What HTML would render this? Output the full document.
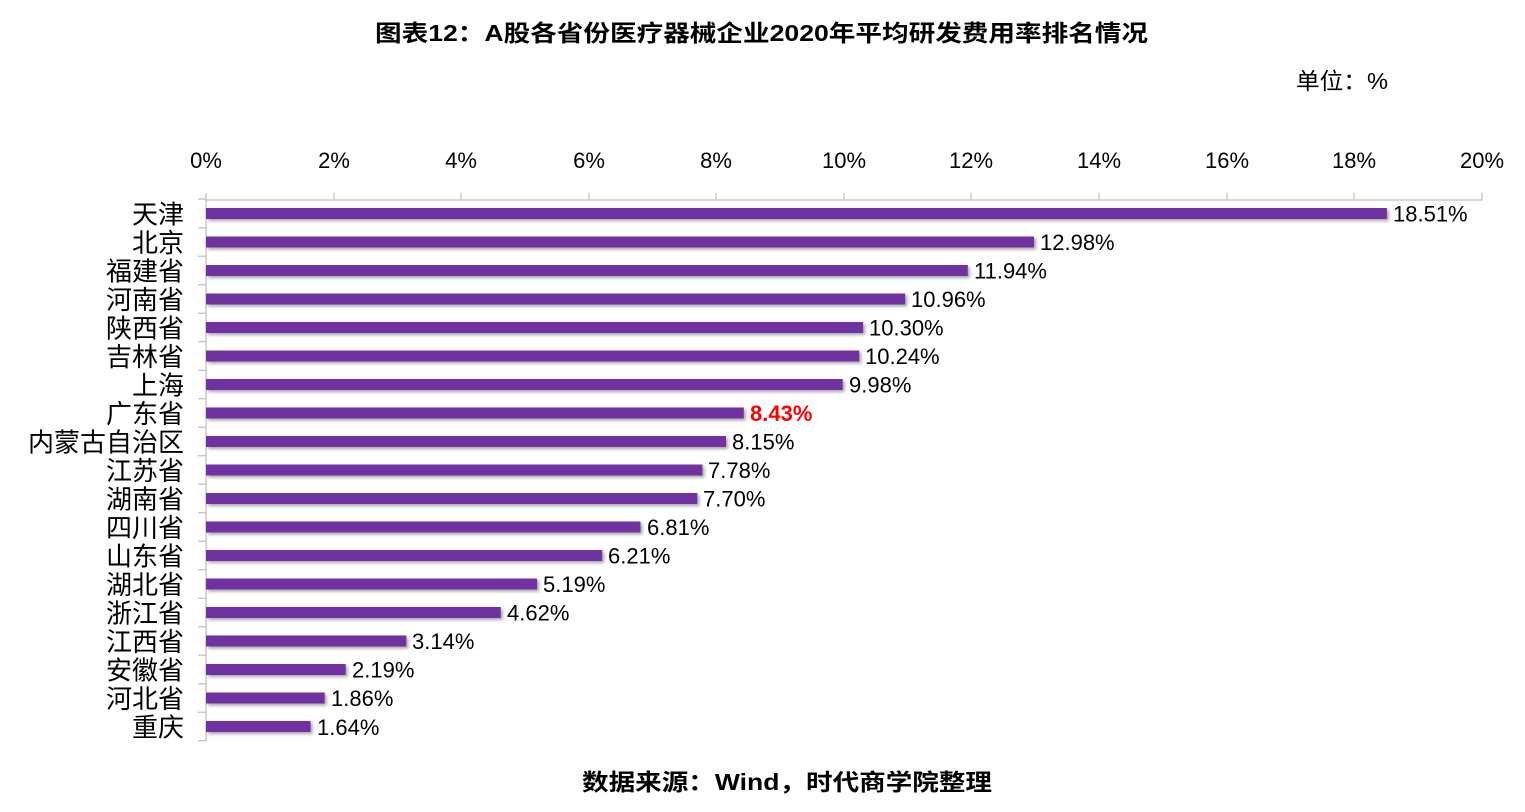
<!DOCTYPE html><html><head><meta charset="utf-8"><style>body{margin:0;background:#fff}svg{display:block}</style></head><body>
<svg width="1525" height="812" xmlns="http://www.w3.org/2000/svg" font-family="Liberation Sans, Noto Sans CJK SC, sans-serif">
<defs><filter id="s" x="-5%" y="-50%" width="110%" height="200%"><feDropShadow dx="2" dy="2" stdDeviation="1.5" flood-color="#000" flood-opacity="0.35"/></filter></defs>
<text x="375" y="41" textLength="773" lengthAdjust="spacingAndGlyphs" font-size="23" font-weight="bold" fill="#000">图表12：A股各省份医疗器械企业2020年平均研发费用率排名情况</text>
<text x="1296" y="89" textLength="92" lengthAdjust="spacingAndGlyphs" font-size="23" fill="#000">单位：%</text>
<text x="582" y="790" textLength="410" lengthAdjust="spacingAndGlyphs" font-size="23" font-weight="bold" fill="#000">数据来源：Wind，时代商学院整理</text>
<g font-size="22" fill="#000" text-anchor="middle">
<text x="206" y="168">0%</text><text x="334" y="168">2%</text><text x="461" y="168">4%</text><text x="589" y="168">6%</text><text x="716" y="168">8%</text><text x="844" y="168">10%</text><text x="971" y="168">12%</text><text x="1099" y="168">14%</text><text x="1227" y="168">16%</text><text x="1354" y="168">18%</text><text x="1482" y="168">20%</text>
</g>
<g stroke="#bfbfbf" stroke-width="1.2">
<line x1="206" y1="200" x2="1482" y2="200"/>
<line x1="206" y1="200" x2="206" y2="741"/>
<line x1="206" y1="193" x2="206" y2="200"/><line x1="334" y1="193" x2="334" y2="200"/><line x1="461" y1="193" x2="461" y2="200"/><line x1="589" y1="193" x2="589" y2="200"/><line x1="716" y1="193" x2="716" y2="200"/><line x1="844" y1="193" x2="844" y2="200"/><line x1="971" y1="193" x2="971" y2="200"/><line x1="1099" y1="193" x2="1099" y2="200"/><line x1="1227" y1="193" x2="1227" y2="200"/><line x1="1354" y1="193" x2="1354" y2="200"/><line x1="1482" y1="193" x2="1482" y2="200"/>
<line x1="198" y1="199" x2="206" y2="199"/>
<line x1="198" y1="227.75" x2="206" y2="227.75"/><line x1="198" y1="256.25" x2="206" y2="256.25"/><line x1="198" y1="284.75" x2="206" y2="284.75"/><line x1="198" y1="313.25" x2="206" y2="313.25"/><line x1="198" y1="341.75" x2="206" y2="341.75"/><line x1="198" y1="370.25" x2="206" y2="370.25"/><line x1="198" y1="398.75" x2="206" y2="398.75"/><line x1="198" y1="427.25" x2="206" y2="427.25"/><line x1="198" y1="455.75" x2="206" y2="455.75"/><line x1="198" y1="484.25" x2="206" y2="484.25"/><line x1="198" y1="512.75" x2="206" y2="512.75"/><line x1="198" y1="541.25" x2="206" y2="541.25"/><line x1="198" y1="569.75" x2="206" y2="569.75"/><line x1="198" y1="598.25" x2="206" y2="598.25"/><line x1="198" y1="626.75" x2="206" y2="626.75"/><line x1="198" y1="655.25" x2="206" y2="655.25"/><line x1="198" y1="683.75" x2="206" y2="683.75"/><line x1="198" y1="712.25" x2="206" y2="712.25"/><line x1="198" y1="740.75" x2="206" y2="740.75"/>
</g>
<g fill="#7030A0" filter="url(#s)">
<rect x="206" y="208" width="1180.9" height="11"/>
<rect x="206" y="236.5" width="828.1" height="11"/>
<rect x="206" y="265" width="761.8" height="11"/>
<rect x="206" y="293.5" width="699.2" height="11"/>
<rect x="206" y="322" width="657.1" height="11"/>
<rect x="206" y="350.5" width="653.3" height="11"/>
<rect x="206" y="379" width="636.7" height="11"/>
<rect x="206" y="407.5" width="537.8" height="11"/>
<rect x="206" y="436" width="520" height="11"/>
<rect x="206" y="464.5" width="496.4" height="11"/>
<rect x="206" y="493" width="491.3" height="11"/>
<rect x="206" y="521.5" width="434.5" height="11"/>
<rect x="206" y="550" width="396.2" height="11"/>
<rect x="206" y="578.5" width="331.1" height="11"/>
<rect x="206" y="607" width="294.8" height="11"/>
<rect x="206" y="635.5" width="200.3" height="11"/>
<rect x="206" y="664" width="139.7" height="11"/>
<rect x="206" y="692.5" width="118.7" height="11"/>
<rect x="206" y="721" width="104.6" height="11"/>
</g>
<g font-size="26" fill="#000" text-anchor="end">
<text x="184" y="223.5">天津</text><text x="184" y="252">北京</text><text x="184" y="280.5">福建省</text><text x="184" y="309">河南省</text><text x="184" y="337.5">陕西省</text><text x="184" y="366">吉林省</text><text x="184" y="394.5">上海</text><text x="184" y="423">广东省</text><text x="184" y="451.5">内蒙古自治区</text><text x="184" y="480">江苏省</text><text x="184" y="508.5">湖南省</text><text x="184" y="537">四川省</text><text x="184" y="565.5">山东省</text><text x="184" y="594">湖北省</text><text x="184" y="622.5">浙江省</text><text x="184" y="651">江西省</text><text x="184" y="679.5">安徽省</text><text x="184" y="708">河北省</text><text x="184" y="736.5">重庆</text>
</g>
<g font-size="22" fill="#000">
<text x="1393" y="221.5">18.51%</text><text x="1040" y="250">12.98%</text><text x="974" y="278.5">11.94%</text><text x="911" y="307">10.96%</text><text x="869" y="335.5">10.30%</text><text x="865" y="364">10.24%</text><text x="849" y="392.5">9.98%</text><text x="750" y="421" fill="#ff0000" font-weight="bold">8.43%</text><text x="732" y="449.5">8.15%</text><text x="708" y="478">7.78%</text><text x="703" y="506.5">7.70%</text><text x="647" y="535">6.81%</text><text x="608" y="563.5">6.21%</text><text x="543" y="592">5.19%</text><text x="507" y="620.5">4.62%</text><text x="412" y="649">3.14%</text><text x="352" y="677.5">2.19%</text><text x="331" y="706">1.86%</text><text x="317" y="735">1.64%</text>
</g>
</svg>
</body></html>
